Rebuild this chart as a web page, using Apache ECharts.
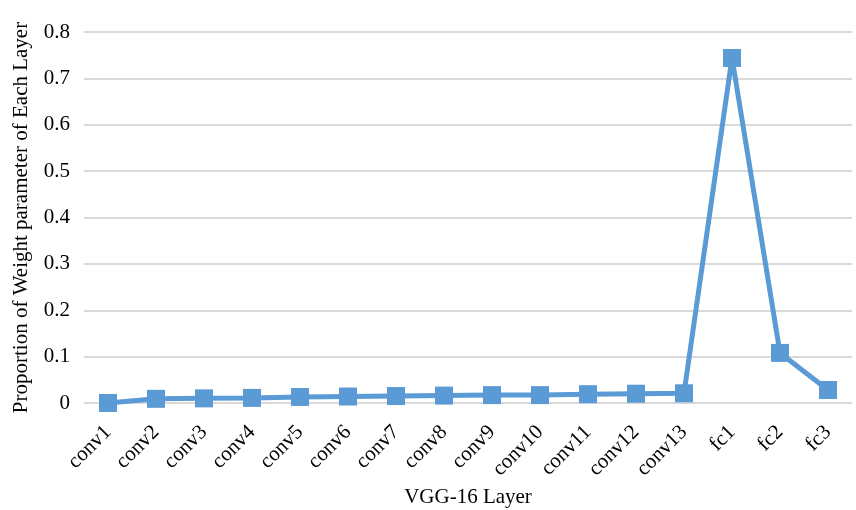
<!DOCTYPE html>
<html><head><meta charset="utf-8">
<script src="https://cdn.jsdelivr.net/npm/echarts@6/dist/echarts.min.js"></script>
<style>html,body{margin:0;padding:0;background:#fff}#c{width:856px;height:510px}</style>
</head><body><div id="c"></div>
<script>
const categories = ['conv1','conv2','conv3','conv4','conv5','conv6','conv7','conv8','conv9','conv10','conv11','conv12','conv13','fc1','fc2','fc3'];
const values = [0.0, 0.009, 0.010, 0.011, 0.013, 0.014, 0.015, 0.016, 0.017, 0.017, 0.019, 0.020, 0.021, 0.744, 0.108, 0.028];
const yTicks = [0, 0.1, 0.2, 0.3, 0.4, 0.5, 0.6, 0.7, 0.8];
const font = 'Liberation Serif';
const chart = echarts.init(document.getElementById('c'));
chart.setOption({
  animation: false,
  grid: {left: 84, right: 4, top: 32, bottom: 107, outerBoundsMode: 'none', containLabel: false},
  xAxis: {
    type: 'category', data: categories, boundaryGap: true,
    axisLine: {show: false}, axisTick: {show: false},
    axisLabel: {rotate: 45, color: '#000', fontFamily: font, fontSize: 21, margin: 26, interval: 0},
    name: 'VGG-16 Layer', nameLocation: 'middle', nameGap: 82,
    nameTextStyle: {color: '#000', fontFamily: font, fontSize: 21}
  },
  yAxis: {
    type: 'value', min: 0, max: 0.8, interval: 0.1,
    axisLine: {show: false}, axisTick: {show: false},
    axisLabel: {color: '#000', fontFamily: font, fontSize: 21, margin: 14,
      formatter: v => { const t = yTicks.find(x => Math.abs(x - v) < 1e-9); return t === 0 ? '0' : String(t); }},
    splitLine: {lineStyle: {color: '#d9d9d9', width: 2}},
    name: 'Proportion of Weight parameter of Each Layer', nameLocation: 'middle', nameGap: 52,
    nameTextStyle: {color: '#000', fontFamily: font, fontSize: 21}
  },
  series: [{
    type: 'line', data: values,
    symbol: 'rect', symbolSize: 18,
    lineStyle: {color: '#5b9bd5', width: 5},
    itemStyle: {color: '#5b9bd5'}
  }]
});
</script></body></html>
